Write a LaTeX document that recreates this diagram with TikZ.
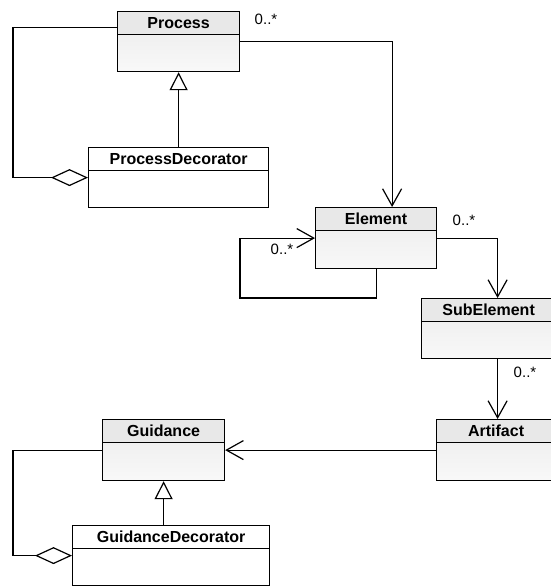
\documentclass[tikz,border=0pt]{standalone}
\usepackage{fontspec}
\setmainfont{Liberation Sans}
\usetikzlibrary{arrows.meta}
\tikzset{
  classbody/.style={rectangle, draw, anchor=north west, inner sep=0pt},
  shadedbody/.style={classbody, top color=gray!16, bottom color=gray!5},
  plainbody/.style={classbody, fill=white},
  classhead/.style={rectangle, draw, anchor=north, minimum height=23pt, inner sep=0pt, font=\bfseries\fontsize{16}{19}\selectfont},
  shadedhead/.style={classhead, fill=gray!18},
  plainhead/.style={classhead, fill=white},
  mult/.style={inner sep=0pt, font=\fontsize{15}{18}\selectfont},
  assoc/.style={-{Straight Barb[length=17pt, width=19pt]}},
  inherit/.style={-{Triangle[open, length=18pt, width=18pt]}},
  aggr/.style={-{Diamond[open, fill=white, length=37pt, width=17pt]}},
}
\begin{document}
\begin{tikzpicture}[x=1pt, y=-1pt, line width=1.2pt]
  \useasboundingbox (0,0) rectangle (550,587);

  % Process part
  \node[shadedbody, minimum width=122pt, minimum height=60pt] (process) at (117,11) {};
  \node[shadedhead, minimum width=122pt] (processhead) at (process.north) {Process};
  \node[plainbody, minimum width=180pt, minimum height=60pt] (procdec) at (88,147) {};
  \node[plainhead, minimum width=180pt] (procdechead) at (procdec.north) {ProcessDecorator};

  % Elements
  \node[shadedbody, minimum width=121pt, minimum height=61pt] (element) at (315,207) {};
  \node[shadedhead, minimum width=121pt] (elementhead) at (element.north) {Element};
  \node[shadedbody, minimum width=134pt, minimum height=60pt] (subelement) at (421,298) {};
  \node[shadedhead, minimum width=134pt] (subelementhead) at (subelement.north) {SubElement};
  \node[shadedbody, minimum width=119pt, minimum height=61pt] (artifact) at (436,419) {};
  \node[shadedhead, minimum width=119pt] (artifacthead) at (artifact.north) {Artifact};

  % Guidance part
  \node[shadedbody, minimum width=122pt, minimum height=61pt] (guidance) at (102,419) {};
  \node[shadedhead, minimum width=122pt] (guidancehead) at (guidance.north) {Guidance};
  \node[plainbody, minimum width=197pt, minimum height=60pt] (guidedec) at (72,525) {};
  \node[plainhead, minimum width=197pt] (guidedechead) at (guidedec.north) {GuidanceDecorator};

  % Bends
  \coordinate (procbend) at (13,100);
  \coordinate (loopbend) at (240,298);
  \coordinate (guidebend) at (13,500);

  % Arrows
  \draw[assoc] (process.east) -| ([xshift=16pt]element.north);
  \draw[assoc] (element.south) |- (loopbend) |- (element.west);
  \draw[assoc] (element.east) -| ([xshift=9pt]subelement.north);
  \draw[assoc] ([xshift=9pt]subelement.south) -- ([xshift=9pt]subelement.south |- artifact.north);
  \draw[assoc] (artifact.west) -- (guidance.east);
  \draw[inherit] (procdec.north) -- (process.south);
  \draw[inherit] (guidedec.north -| guidance.south) -- (guidance.south);
  \draw[aggr] ([yshift=14pt]process.west) -| (procbend) |- (procdec.west);
  \draw[aggr] (guidance.west) -| (guidebend) |- (guidedec.west);

  % Multiplicities
  \node[mult] (procmult) at (266,19) {0..*};
  \node[mult] (loopmult) at (282,249) {0..*};
  \node[mult] (elemmult) at (464,220) {0..*};
  \node[mult] (submult) at (525,372) {0..*};

\end{tikzpicture}
\end{document}
